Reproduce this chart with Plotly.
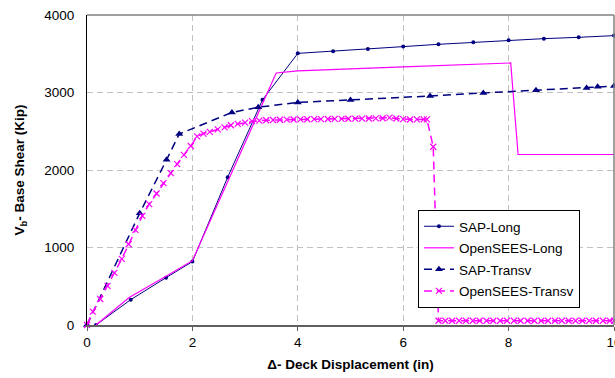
import plotly.graph_objects as go

# ---- data ----
sap_long_x = [0.17, 0.83, 1.5, 2.0, 2.67, 3.33, 4.0, 4.67, 5.33, 6.0, 6.67, 7.33, 8.0, 8.67, 9.33, 10.0]
sap_long_y = [0, 327, 611, 818, 1908, 2905, 3505, 3531, 3562, 3592, 3622, 3647, 3673, 3695, 3712, 3734]

os_long_x = [0.17, 0.8, 1.5, 2.0, 3.59, 3.75, 4.0, 6.0, 8.04, 8.18, 10.0]
os_long_y = [0, 355, 630, 830, 3252, 3262, 3280, 3330, 3381, 2200, 2200]

sap_tr_x = [0.0, 1.0, 1.51, 1.75, 2.75, 3.25, 4.0, 5.0, 6.51, 7.52, 8.52, 9.48, 9.69, 10.0]
sap_tr_y = [0, 1443, 2132, 2464, 2743, 2810, 2872, 2903, 2955, 2994, 3028, 3059, 3075, 3083]

os_tr_x = [0.0, 0.11, 0.25, 0.39, 0.52, 0.66, 0.79, 0.92, 1.05, 1.18, 1.32, 1.45, 1.59, 1.71,
           1.84, 1.97, 2.09, 2.21, 2.33, 2.48, 2.61, 2.73, 2.86, 3.0, 3.13, 3.27, 3.40, 3.53,
           3.66, 3.79, 3.92, 4.05, 4.18, 4.31, 4.44, 4.57, 4.70, 4.83, 4.96, 5.09, 5.22, 5.35,
           5.48, 5.61, 5.74, 5.87, 6.00, 6.13, 6.26, 6.39, 6.45, 6.57, 6.67, 6.80, 6.93, 7.06,
           7.19, 7.32, 7.45, 7.58, 7.71, 7.84, 7.97, 8.10, 8.23, 8.36, 8.49, 8.62, 8.75, 8.88,
           9.01, 9.14, 9.27, 9.40, 9.53, 9.66, 9.79, 9.92, 10.0]
os_tr_y = [0, 172, 336, 504, 672, 853, 1042, 1227, 1408, 1559, 1697, 1831, 1960, 2076,
           2196, 2310, 2433, 2470, 2492, 2525, 2550, 2577, 2595, 2612, 2630, 2638, 2642, 2645,
           2648, 2650, 2652, 2653, 2655, 2656, 2657, 2658, 2659, 2660, 2661, 2662, 2663, 2664,
           2666, 2668, 2675, 2665, 2657, 2652, 2653, 2654, 2654, 2300, 55, 55, 55, 55,
           55, 55, 55, 55, 55, 55, 55, 55, 55, 55, 55, 55, 55, 55,
           55, 55, 55, 55, 55, 55, 55, 55, 55]

x_ticks = [0, 2, 4, 6, 8, 10]
y_ticks = [0, 1000, 2000, 3000, 4000]

NAVY = "#000080"
MAG = "#FF00FF"
FONT = "Arial, Liberation Sans, sans-serif"

fig = go.Figure()
fig.add_trace(go.Scatter(x=sap_long_x, y=sap_long_y, name="SAP-Long", mode="lines+markers",
                         line=dict(color=NAVY, width=1), marker=dict(symbol="circle", size=4, color=NAVY),
                         cliponaxis=False))
fig.add_trace(go.Scatter(x=os_long_x, y=os_long_y, name="OpenSEES-Long", mode="lines",
                         line=dict(color=MAG, width=1.2), cliponaxis=False))
fig.add_trace(go.Scatter(x=sap_tr_x, y=sap_tr_y, name="SAP-Transv", mode="lines+markers",
                         line=dict(color=NAVY, width=1.5, dash="8px,5px"),
                         marker=dict(symbol="triangle-up", size=7, color=NAVY), cliponaxis=False))
fig.add_trace(go.Scatter(x=os_tr_x, y=os_tr_y, name="OpenSEES-Transv", mode="lines+markers",
                         line=dict(color=MAG, width=1.5, dash="8px,5px"),
                         marker=dict(symbol="x-thin", size=6, color=MAG, line=dict(color=MAG, width=1.2)),
                         cliponaxis=False))

fig.update_layout(
    width=615, height=378,
    margin=dict(l=87, r=1, t=15, b=53),
    paper_bgcolor="white", plot_bgcolor="white",
    font=dict(family=FONT, size=13, color="black"),
    showlegend=True,
    legend=dict(x=0.628, y=0.371, xanchor="left", yanchor="top",
                bordercolor="black", borderwidth=1, bgcolor="white",
                font=dict(size=13.5), tracegroupgap=1),
    xaxis=dict(range=[0, 10], tickvals=x_ticks, ticktext=[str(v) for v in x_ticks],
               automargin=False, ticklabeloverflow="allow",
               showgrid=True, gridcolor="#C0C0C0", griddash="6px,4px", gridwidth=1,
               showline=True, linecolor="#606060", linewidth=2,
               ticks="outside", ticklen=4, tickcolor="#606060",
               zeroline=False, tickfont=dict(size=13.5),
               title=dict(text="<b>Δ- Deck Displacement (in)</b>", font=dict(size=13.5), standoff=10)),
    yaxis=dict(range=[0, 4000], tickvals=y_ticks, ticktext=[str(v) for v in y_ticks],
               automargin=False,
               showgrid=True, gridcolor="#C0C0C0", griddash="6px,4px", gridwidth=1,
               showline=True, linecolor="black", linewidth=1,
               ticks="", ticklabelstandoff=9, zeroline=False, tickfont=dict(size=13.5),
               title=dict(text="<b>V<sub>b</sub>- Base Shear (Kip)</b>", font=dict(size=13.5), standoff=16)),
    shapes=[
        dict(type="line", xref="paper", yref="paper", x0=0, x1=1, y0=1, y1=1,
             line=dict(color="#808080", width=1.5)),
        dict(type="line", xref="paper", yref="paper", x0=1, x1=1, y0=0, y1=1,
             line=dict(color="#808080", width=1.5)),
    ],
)
for i, tr in enumerate(fig.data):
    tr.legendgroup = f"g{i}"

fig.write_html("out.html", config={"displayModeBar": False},
               post_script="document.body.style.margin='0';document.body.style.overflow='hidden';")
